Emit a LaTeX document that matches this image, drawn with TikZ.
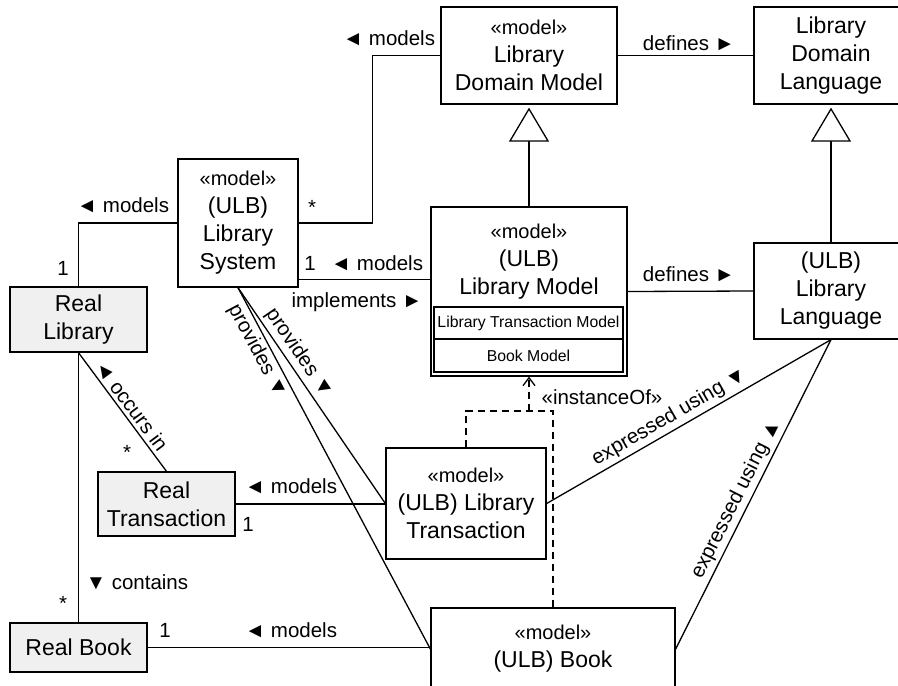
\documentclass[tikz,border=0pt]{standalone}
\usepackage{fontspec}
\setmainfont{Liberation Sans}
\usetikzlibrary{arrows.meta,calc}

\newcommand\boxfont{\fontsize{23}{28}\selectfont}
\newcommand\lblfont{\fontsize{20.5}{24}\selectfont}
\newcommand\stfont{\fontsize{20}{28}\selectfont}
\newcommand\smfont{\fontsize{15.8}{19}\selectfont}

\tikzset{
  box/.style={draw, line width=1.3pt, inner sep=0pt, align=center, font=\boxfont},
  real/.style={box, fill=gray!12},
  comp/.style={draw, line width=1.3pt, inner sep=0pt, font=\smfont, minimum width=189pt},
  lbl/.style={font=\lblfont, inner sep=1pt},
  slbl/.style={font=\lblfont, sloped, inner sep=3pt},
  conn/.style={line width=1.3pt},
  gen/.style={conn, -{Triangle[open, length=34pt, width=40pt, fill=white]}},
  inst/.style={conn, dash pattern=on 7pt off 5pt},
}

\begin{document}
\begin{tikzpicture}[x=1pt, y=-1pt]
\useasboundingbox (0,0) rectangle (898,686);
\clip (0,0) rectangle (898,686);

% model boxes
\node[box, minimum width=176pt, minimum height=97pt] (LDM) at (529,55.5)
  {{\stfont «model»}\\Library\\Domain Model};
\node[box, minimum width=154pt, minimum height=97pt] (LDL) at (831,55.5)
  {Library\\Domain\\Language};
\node[box, minimum width=120pt, minimum height=128pt] (LS) at (238,223)
  {{\stfont «model»}\\(ULB)\\Library\\System};
\node[box, minimum width=196pt, minimum height=169pt] (LM) at (529,291.5) {};
\node[font=\boxfont, align=center, inner sep=0pt] (LMtext) at (529,262)
  {{\stfont «model»}\\(ULB)\\Library Model};
\node[comp, minimum height=32pt] (LTM) at (528.5,323) {Library Transaction Model};
\node[comp, minimum height=33pt] (BM) at (528.5,355.5) {Book Model};
\node[box, minimum width=154pt, minimum height=96pt] (LL) at (831,291)
  {(ULB)\\Library\\Language};
\node[box, minimum width=160pt, minimum height=111pt] (LT) at (466,503.5)
  {{\stfont «model»}\\(ULB) Library\\Transaction};
\node[box, minimum width=244pt, minimum height=82pt] (BK) at (553,649)
  {{\stfont «model»}\\(ULB) Book};

% real-world boxes
\node[real, minimum width=137pt, minimum height=65pt] (RL) at (78.5,319.5) {Real\\Library};
\node[real, minimum width=137pt, minimum height=64pt] (RT) at (166.5,504) {Real\\Transaction};
\node[real, minimum width=137pt, minimum height=49pt] (RB) at (78.5,647.5) {Real Book};

% generalisations
\draw[gen] (LM.north) -- ([yshift=-3pt]LDM.south);
\draw[gen] (LL.north) -- ([yshift=-3pt]LDL.south);

% associations
\draw[conn] (LS.east) -- ++(74,0) |- (LDM.west);
\node[lbl] (lmA) at (389,38) {◄ models};
\node[lbl] (stA) at (312,207) {*};

\draw[conn] (LS.west) -| (RL.north);
\node[lbl] (lmB) at (123,205) {◄ models};
\node[lbl] (oneB) at (63,268) {1};

\draw[conn] (LS.south east) ++(0,-8) coordinate (sysM) -- (sysM -| LM.west);
\node[lbl] (oneC) at (310,263) {1};
\node[lbl] (lmC) at (377,263) {◄ models};
\node[lbl] (impl) at (357,302) {implements ►};

\draw[conn] (LDM.east) -- (LDL.west);
\node[lbl] (defA) at (689,43) {defines ►};
\draw[conn] (LM.east) -- (LL.west);
\node[lbl] (defB) at (689,274) {defines ►};

\draw[conn] (RL.south) -- (RT.north)
  node[slbl, above, pos=0.5] (occ) {◄ occurs in};
\node[lbl] (stD) at (127,452) {*};

\draw[conn] (RL.south) -- (RB.north);
\node[lbl] (cont) at (137,582) {▼ contains};
\node[lbl] (stE) at (63,603) {*};

\draw[conn] (RT.east) -- (RT.east -| LT.west);
\node[lbl] (lmF) at (291,486) {◄ models};
\node[lbl] (oneF) at (248,524) {1};

\draw[conn] (RB.east) -- (RB.east -| BK.west);
\node[lbl] (lmG) at (291,630) {◄ models};
\node[lbl] (oneG) at (165,630) {1};

\draw[conn] (LS.south) -- (LT.west)
  node[slbl, above, pos=0.34] (provA) {provides ▼};
\draw[conn] (LS.south) -- (BK.west)
  node[slbl, below, pos=0.16] (provB) {provides ▼};

\draw[conn] (LT.east) -- (LL.south)
  node[slbl, above, pos=0.456] (expA) {expressed using ▼};
\draw[conn] (LL.south) -- (BK.east)
  node[slbl, above, pos=0.535] (expB) {expressed using ▲};

% instance-of dependency
\coordinate (join) at (529,411);
\draw[inst] (LT.north) |- (BK.north |- join) -- (BK.north);
\draw[inst, -{Straight Barb[length=8pt, width=12pt]}] (join) -- (join |- LM.south);
\node[lbl] (instLbl) at (602,397) {«instanceOf»};
\end{tikzpicture}
\end{document}
